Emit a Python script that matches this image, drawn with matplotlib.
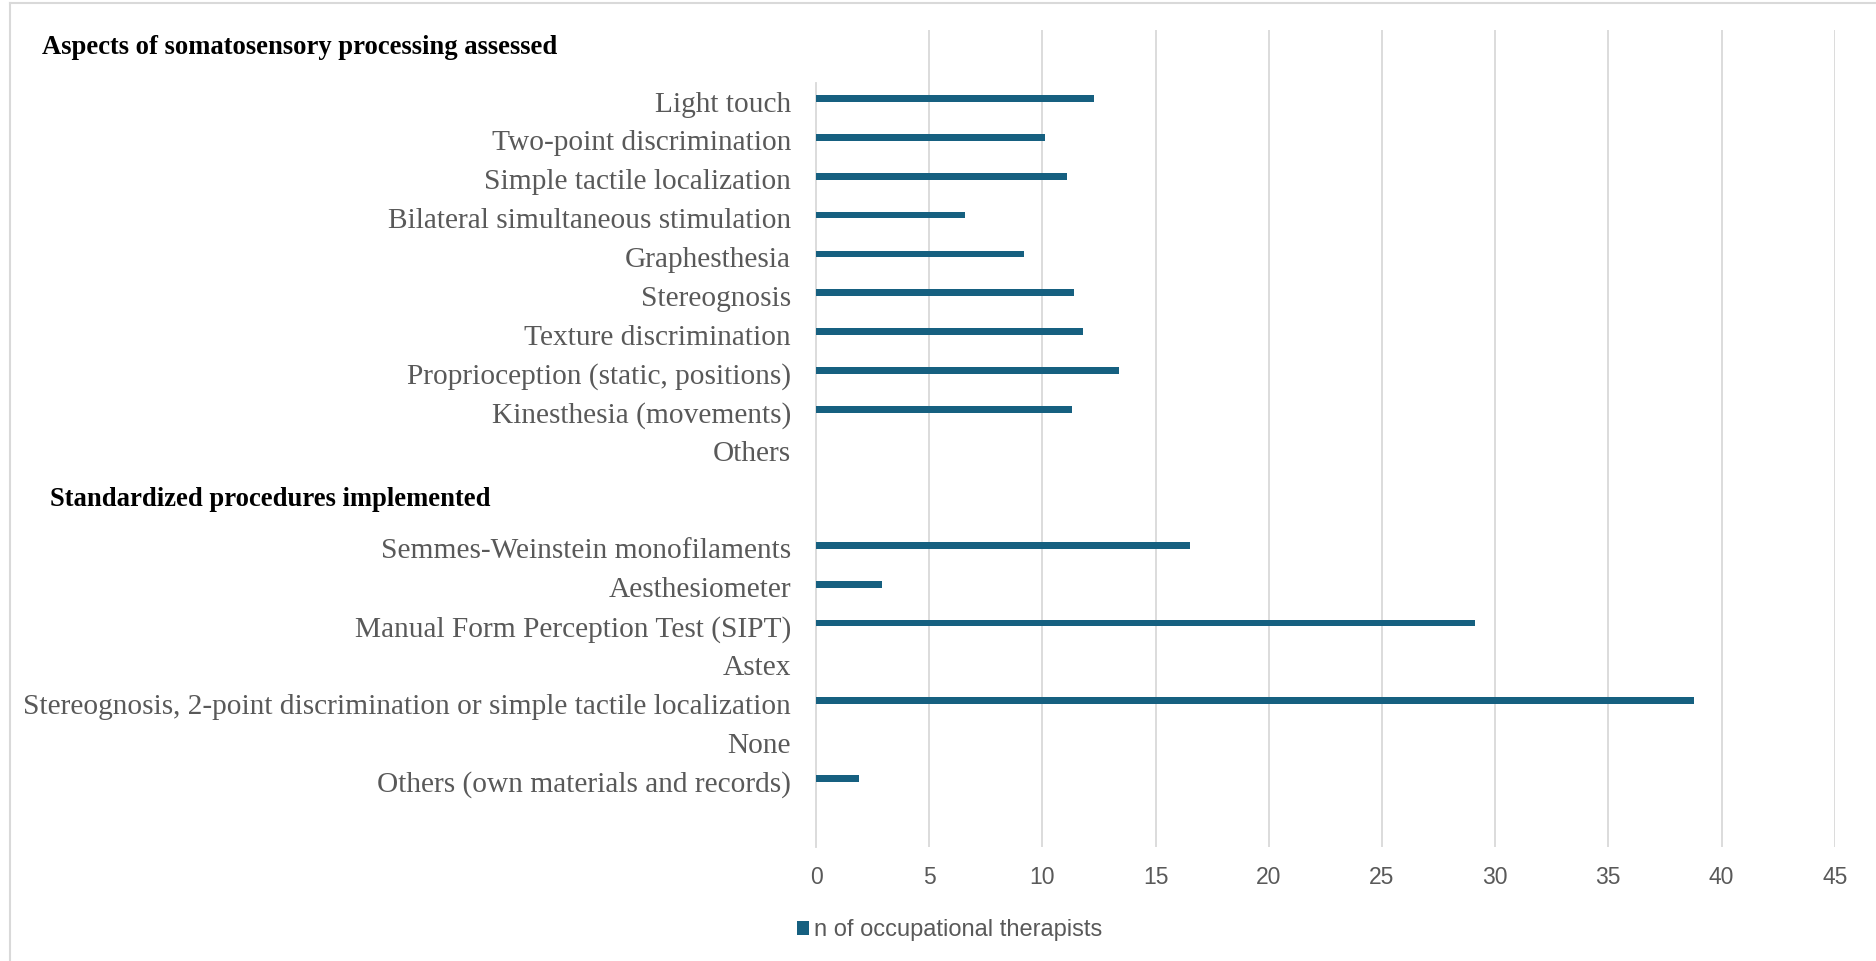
import matplotlib
matplotlib.use("Agg")
import matplotlib.pyplot as plt
from matplotlib.lines import Line2D
from matplotlib.transforms import ScaledTranslation

# ---------------- data ----------------
heading_aspects = "Aspects of somatosensory processing assessed"
heading_procedures = "Standardized procedures implemented"

aspects = [
    "Light touch",
    "Two-point discrimination",
    "Simple tactile localization",
    "Bilateral simultaneous stimulation",
    "Graphesthesia",
    "Stereognosis",
    "Texture discrimination",
    "Proprioception (static, positions)",
    "Kinesthesia (movements)",
    "Others",
]
aspect_values = [12.3, 10.1, 11.1, 6.6, 9.2, 11.4, 11.8, 13.4, 11.3, 0]

procedures = [
    "Semmes-Weinstein monofilaments",
    "Aesthesiometer",
    "Manual Form Perception Test (SIPT)",
    "Astex",
    "Stereognosis, 2-point discrimination or simple tactile localization",
    "None",
    "Others (own materials and records)",
]
procedure_values = [16.5, 2.9, 29.1, 0, 38.8, 0, 1.9]

series_name = "n of occupational therapists"
x_ticks = [0, 5, 10, 15, 20, 25, 30, 35, 40, 45]

# ---------------- styling ----------------
W, H, DPI = 1876, 961, 100
BAR_COLOR = "#166080"
GRID_COLOR = "#d9d9d9"
TEXT_GRAY = "#595959"
GROUP_GAP = 1.5  # extra slots between the two groups

fig = plt.figure(figsize=(W / DPI, H / DPI), dpi=DPI)
fig.patch.set_facecolor("white")


def fx(px):
    return px / W


def fy(py):
    return 1 - py / H


ax_left, ax_right = 816, 1834.7
ax_top, ax_bottom = 30, 847.3
ax = fig.add_axes([fx(ax_left), fy(ax_bottom), fx(ax_right - ax_left),
                   (ax_bottom - ax_top) / H])

labels = aspects + procedures
values = aspect_values + procedure_values
pos1 = list(range(len(aspects)))
start2 = len(aspects) + GROUP_GAP
pos2 = [start2 + i for i in range(len(procedures))]
positions = pos1 + pos2

bars = ax.barh(positions, values, height=0.172, color=BAR_COLOR,
               label=series_name, zorder=3)

ax.set_xlim(0, 45)
ax.set_ylim(19.27, -1.763)
ax.set_xticks(x_ticks)
ax.set_xticklabels([str(t) for t in x_ticks], family="Liberation Sans",
                   fontsize=16.5, color=TEXT_GRAY)
ax.set_yticks(positions)
ax.set_yticklabels(labels, family="Liberation Serif", fontsize=21.2,
                   color=TEXT_GRAY)
ax.tick_params(axis="y", length=0, pad=18)
ax.tick_params(axis="x", length=0, pad=13.5)

# nudge category labels slightly downward, as in the reference
shift = ScaledTranslation(0, -3 / DPI, fig.dpi_scale_trans)
for lab in ax.get_yticklabels():
    lab.set_transform(lab.get_transform() + shift)

ax.grid(axis="x", color=GRID_COLOR, linewidth=1.3, zorder=0)
ax.set_axisbelow(True)
ax.xaxis.get_gridlines()[0].set_visible(False)

for s in ["top", "right", "bottom"]:
    ax.spines[s].set_visible(False)
ax.spines["left"].set_color(GRID_COLOR)
ax.spines["left"].set_linewidth(1.3)
ax.spines["left"].set_bounds(-0.41, 19.27)

# group headings
fig.text(fx(42), fy(54), heading_aspects, family="Liberation Serif",
         fontweight="bold", fontsize=19.2, color="black", va="baseline",
         ha="left")
fig.text(fx(50), fy(506), heading_procedures, family="Liberation Serif",
         fontweight="bold", fontsize=19.2, color="black", va="baseline",
         ha="left")

# legend
fig.legend(handles=[bars], labels=[series_name], loc="center left",
           bbox_to_anchor=(fx(796.7), fy(930)), frameon=False,
           prop={"family": "Liberation Sans", "size": 17},
           labelcolor=TEXT_GRAY, handlelength=0.52, handleheight=0.52,
           handletextpad=0.22, borderpad=0, borderaxespad=0)

# chart border (top and left visible)
fig.add_artist(Line2D([fx(10), 1.01], [fy(2.7), fy(2.7)], color=GRID_COLOR,
                      linewidth=1.5, transform=fig.transFigure))
fig.add_artist(Line2D([fx(10), fx(10)], [fy(2.7), -0.01], color=GRID_COLOR,
                      linewidth=1.5, transform=fig.transFigure))

fig.savefig("out.png", dpi=DPI, facecolor="white")
